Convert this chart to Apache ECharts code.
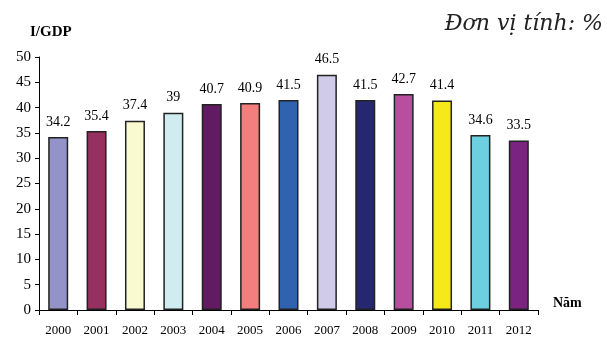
<!DOCTYPE html>
<html>
<head>
<meta charset="utf-8">
<script src="https://cdn.jsdelivr.net/npm/echarts@6/dist/echarts.min.js"></script>
<style>
  html, body { margin: 0; padding: 0; background: #fff; }
  #main { width: 607px; height: 339px; }
</style>
</head>
<body>
<div id="main"></div>
<script>
  // số liệu
  var years = ['2000', '2001', '2002', '2003', '2004', '2005', '2006', '2007', '2008', '2009', '2010', '2011', '2012'];
  var values = [34.2, 35.4, 37.4, 39, 40.7, 40.9, 41.5, 46.5, 41.5, 42.7, 41.4, 34.6, 33.5];
  var barColors = ['#9393c8', '#963060', '#fafad0', '#d0ecf0', '#621a62', '#f27e7e', '#2f63b0',
                   '#cfcbe8', '#252870', '#b84f9e', '#f5ea18', '#6dcfdf', '#7a2380'];

  var font = '"Liberation Serif", "DejaVu Serif", serif';
  var myChart = echarts.init(document.getElementById('main'));
  var option = {
    animation: false,
    textStyle: { fontFamily: font },
    grid: { left: 39, right: 69, top: 57, bottom: 29 },
    graphic: [
      {
        type: 'text', left: 30, top: 25,
        style: { text: 'I/GDP', font: 'bold 15px ' + font, fill: '#000' }
      },
      {
        type: 'text', left: 553, top: 296,
        style: { text: 'Năm', font: 'bold 14px ' + font, fill: '#000' }
      },
      {
        type: 'text', right: 4, top: 13,
        style: { text: 'Đơn vị tính: %', font: 'italic 22px "DejaVu Serif", serif', fill: '#222' }
      }
    ],
    xAxis: {
      type: 'category',
      data: years,
      axisLine: { lineStyle: { color: '#000', width: 1 } },
      axisTick: { show: true, length: 5, lineStyle: { color: '#000' } },
      axisLabel: { color: '#000', fontSize: 13, fontFamily: font, margin: 14 }
    },
    yAxis: {
      type: 'value',
      min: 0,
      max: 50,
      interval: 5,
      splitLine: { show: false },
      axisLine: { show: true, lineStyle: { color: '#000', width: 1 } },
      axisTick: { show: true, length: 4, lineStyle: { color: '#000' } },
      axisLabel: { color: '#000', fontSize: 15, fontFamily: font, margin: 8 }
    },
    series: [
      {
        type: 'bar',
        barWidth: 20,
        data: values.map(function (v, i) {
          return { value: v, itemStyle: { color: barColors[i] } };
        }),
        itemStyle: { borderColor: '#222', borderWidth: 1.5 },
        label: {
          show: true,
          position: 'top',
          distance: 8,
          color: '#000',
          fontSize: 14,
          fontFamily: font
        }
      }
    ]
  };
  myChart.setOption(option);
</script>
</body>
</html>
